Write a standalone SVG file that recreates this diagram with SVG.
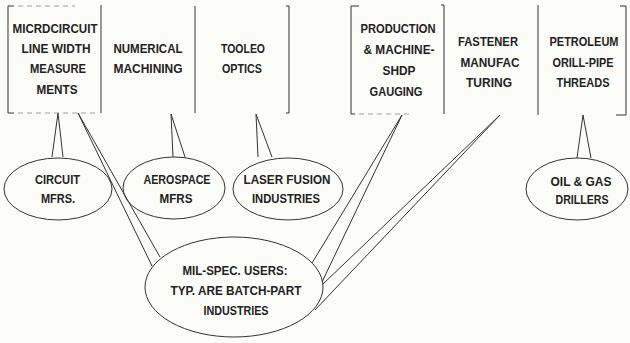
<svg xmlns="http://www.w3.org/2000/svg" width="630" height="343" viewBox="0 0 630 343">
<style>
.bg{fill:#fcfcf8}
.ln{stroke:#333;stroke-width:1;fill:none}
.fa{stroke:#888;stroke-width:0.8;fill:none;stroke-dasharray:5 4}
.el{stroke:#333;stroke-width:1;fill:none}
text{font-family:"Liberation Sans",Arial,sans-serif;font-weight:bold;font-size:13px;fill:#222;text-anchor:middle}
</style>
<rect class="bg" x="0" y="0" width="630" height="343"/>
<g id="connectors">
<path class="ln" d="M58,113 L52,157 M58,113 L63,157"/>
<path class="ln" d="M78,113 L152,266 M78,113 L160,257"/>
<path class="ln" d="M171,114 L173,157 M171,114 L185,157"/>
<path class="ln" d="M256,114 L258,157 M256,114 L272,157"/>
<path class="ln" d="M402,115 L312,263 M402,115 L322,282"/>
<path class="ln" d="M500,115 L323,284 M500,115 L315,310"/>
<path class="ln" d="M583,115 L577,158 M583,115 L591,158"/>
</g>
<g id="box-microcircuit">
<path class="ln" d="M14,6 L8,6 L8,113 L14,113 M101,5 L101,113"/>
<path class="fa" d="M18,6 L75,6 M18,113 L98,113"/>
<text x="55" y="33" textLength="85" lengthAdjust="spacingAndGlyphs">MICRDCIRCUIT</text>
<text x="56" y="53" textLength="69" lengthAdjust="spacingAndGlyphs">LINE WIDTH</text>
<text x="58" y="73" textLength="56" lengthAdjust="spacingAndGlyphs">MEASURE</text>
<text x="57" y="94" textLength="41" lengthAdjust="spacingAndGlyphs">MENTS</text>
</g>
<g id="box-numerical">
<path class="ln" d="M195,6 L195,113"/>
<text x="148" y="53" textLength="69" lengthAdjust="spacingAndGlyphs">NUMERICAL</text>
<text x="148" y="73" textLength="69" lengthAdjust="spacingAndGlyphs">MACHINING</text>
</g>
<g id="box-tooleo">
<path class="ln" d="M286,6 L289,6 L289,113 L286,113"/>
<text x="243" y="53" textLength="44" lengthAdjust="spacingAndGlyphs">TOOLEO</text>
<text x="242" y="73" textLength="40" lengthAdjust="spacingAndGlyphs">OPTICS</text>
</g>
<g id="box-production">
<path class="ln" d="M359,6 L351,6 L351,114 L355,114 M441,5 L444,5 L444,114"/>
<path class="fa" d="M359,114 L410,114"/>
<text x="398" y="33" textLength="75" lengthAdjust="spacingAndGlyphs">PRODUCTION</text>
<text x="399" y="54" textLength="71" lengthAdjust="spacingAndGlyphs">&amp; MACHINE-</text>
<text x="399" y="75" textLength="33" lengthAdjust="spacingAndGlyphs">SHDP</text>
<text x="396" y="96" textLength="53" lengthAdjust="spacingAndGlyphs">GAUGING</text>
</g>
<g id="box-fastener">
<path class="ln" d="M538,5 L538,115"/>
<text x="488" y="46" textLength="60" lengthAdjust="spacingAndGlyphs">FASTENER</text>
<text x="490" y="66.5" textLength="59" lengthAdjust="spacingAndGlyphs">MANUFAC</text>
<text x="489" y="87" textLength="46" lengthAdjust="spacingAndGlyphs">TURING</text>
</g>
<g id="box-petroleum">
<path class="ln" d="M620,6 L626,6 L626,115 L616,115"/>
<text x="584" y="46" textLength="69" lengthAdjust="spacingAndGlyphs">PETROLEUM</text>
<text x="583" y="66.5" textLength="61" lengthAdjust="spacingAndGlyphs">ORILL-PIPE</text>
<text x="583" y="87" textLength="53" lengthAdjust="spacingAndGlyphs">THREADS</text>
</g>
<g id="ell-circuit">
<ellipse class="el" cx="58" cy="189" rx="54" ry="31"/>
<text x="57.5" y="184" textLength="45" lengthAdjust="spacingAndGlyphs">CIRCUIT</text>
<text x="58" y="202.5" textLength="34" lengthAdjust="spacingAndGlyphs">MFRS.</text>
</g>
<g id="ell-aerospace">
<ellipse class="el" cx="174" cy="188" rx="51" ry="31"/>
<text x="177" y="184" textLength="67" lengthAdjust="spacingAndGlyphs">AEROSPACE</text>
<text x="176" y="202.5" textLength="33" lengthAdjust="spacingAndGlyphs">MFRS</text>
</g>
<g id="ell-laser">
<ellipse class="el" cx="288" cy="189" rx="55" ry="31"/>
<text x="287" y="184" textLength="87" lengthAdjust="spacingAndGlyphs">LASER FUSION</text>
<text x="286" y="203" textLength="68" lengthAdjust="spacingAndGlyphs">INDUSTRIES</text>
</g>
<g id="ell-oil">
<ellipse class="el" cx="577" cy="189" rx="51" ry="31"/>
<text x="581" y="186" textLength="61" lengthAdjust="spacingAndGlyphs">OIL &amp; GAS</text>
<text x="582" y="204" textLength="53" lengthAdjust="spacingAndGlyphs">DRILLERS</text>
</g>
<g id="ell-milspec">
<ellipse class="el" cx="234" cy="287" rx="89" ry="50"/>
<text x="235" y="275" textLength="105" lengthAdjust="spacingAndGlyphs">MIL-SPEC. USERS:</text>
<text x="236" y="295" textLength="131" lengthAdjust="spacingAndGlyphs">TYP. ARE BATCH-PART</text>
<text x="236" y="315" textLength="65" lengthAdjust="spacingAndGlyphs">INDUSTRIES</text>
</g>
</svg>
